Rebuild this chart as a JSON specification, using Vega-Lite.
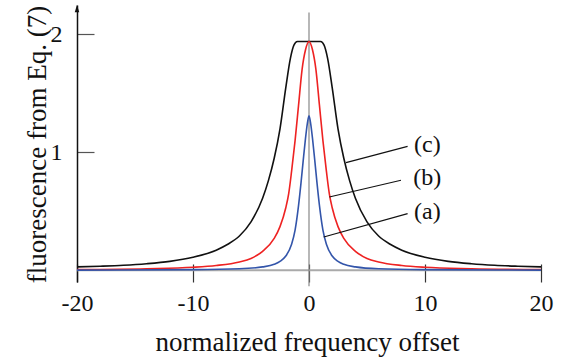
{
  "$schema": "https://vega.github.io/schema/vega-lite/v6.json",
  "autosize": {"type": "none"},
  "padding": {"left": 77, "top": 5, "right": 24, "bottom": 76},
  "width": 464,
  "height": 277,
  "background": "white",
  "config": {
    "view": {"stroke": null},
    "font": "Liberation Serif",
    "axis": {"labelFont": "Liberation Serif", "titleFont": "Liberation Serif", "labelColor": "#111", "titleColor": "#111", "titleFontWeight": "normal", "grid": false}
  },
  "datasets": {
    "curves": [
      {"series": "c", "x": -20, "y": 0.028}, {"series": "c", "x": -18, "y": 0.034}, {"series": "c", "x": -16, "y": 0.042}, {"series": "c", "x": -14, "y": 0.055}, {"series": "c", "x": -12, "y": 0.075}, {"series": "c", "x": -10, "y": 0.11}, {"series": "c", "x": -8, "y": 0.17}, {"series": "c", "x": -7, "y": 0.22}, {"series": "c", "x": -6, "y": 0.29}, {"series": "c", "x": -5, "y": 0.41}, {"series": "c", "x": -4, "y": 0.61}, {"series": "c", "x": -3.5, "y": 0.76}, {"series": "c", "x": -3, "y": 0.95}, {"series": "c", "x": -2.5, "y": 1.2}, {"series": "c", "x": -2, "y": 1.55}, {"series": "c", "x": -1.6, "y": 1.8}, {"series": "c", "x": -1.3, "y": 1.91}, {"series": "c", "x": -1, "y": 1.94}, {"series": "c", "x": 0, "y": 1.94}, {"series": "c", "x": 1, "y": 1.94}, {"series": "c", "x": 1.3, "y": 1.91}, {"series": "c", "x": 1.6, "y": 1.8}, {"series": "c", "x": 2, "y": 1.55}, {"series": "c", "x": 2.5, "y": 1.2}, {"series": "c", "x": 3, "y": 0.95}, {"series": "c", "x": 3.5, "y": 0.76}, {"series": "c", "x": 4, "y": 0.61}, {"series": "c", "x": 5, "y": 0.41}, {"series": "c", "x": 6, "y": 0.29}, {"series": "c", "x": 7, "y": 0.22}, {"series": "c", "x": 8, "y": 0.17}, {"series": "c", "x": 10, "y": 0.11}, {"series": "c", "x": 12, "y": 0.075}, {"series": "c", "x": 14, "y": 0.055}, {"series": "c", "x": 16, "y": 0.042}, {"series": "c", "x": 18, "y": 0.034}, {"series": "c", "x": 20, "y": 0.028},
      {"series": "b", "x": -20, "y": 0.006}, {"series": "b", "x": -14, "y": 0.013}, {"series": "b", "x": -10, "y": 0.025}, {"series": "b", "x": -8, "y": 0.04}, {"series": "b", "x": -6, "y": 0.07}, {"series": "b", "x": -5, "y": 0.1}, {"series": "b", "x": -4, "y": 0.16}, {"series": "b", "x": -3, "y": 0.27}, {"series": "b", "x": -2.5, "y": 0.37}, {"series": "b", "x": -2, "y": 0.53}, {"series": "b", "x": -1.75, "y": 0.65}, {"series": "b", "x": -1.5, "y": 0.84}, {"series": "b", "x": -1.2, "y": 1.1}, {"series": "b", "x": -0.9, "y": 1.4}, {"series": "b", "x": -0.6, "y": 1.7}, {"series": "b", "x": -0.3, "y": 1.87}, {"series": "b", "x": 0, "y": 1.94}, {"series": "b", "x": 0.3, "y": 1.87}, {"series": "b", "x": 0.6, "y": 1.7}, {"series": "b", "x": 0.9, "y": 1.4}, {"series": "b", "x": 1.2, "y": 1.1}, {"series": "b", "x": 1.5, "y": 0.84}, {"series": "b", "x": 1.75, "y": 0.65}, {"series": "b", "x": 2, "y": 0.53}, {"series": "b", "x": 2.5, "y": 0.37}, {"series": "b", "x": 3, "y": 0.27}, {"series": "b", "x": 4, "y": 0.16}, {"series": "b", "x": 5, "y": 0.1}, {"series": "b", "x": 6, "y": 0.07}, {"series": "b", "x": 8, "y": 0.04}, {"series": "b", "x": 10, "y": 0.025}, {"series": "b", "x": 14, "y": 0.013}, {"series": "b", "x": 20, "y": 0.006},
      {"series": "a", "x": -20, "y": 0.001}, {"series": "a", "x": -10, "y": 0.005}, {"series": "a", "x": -6, "y": 0.012}, {"series": "a", "x": -4, "y": 0.028}, {"series": "a", "x": -3, "y": 0.05}, {"series": "a", "x": -2.5, "y": 0.075}, {"series": "a", "x": -2, "y": 0.12}, {"series": "a", "x": -1.5, "y": 0.22}, {"series": "a", "x": -1.2, "y": 0.34}, {"series": "a", "x": -0.9, "y": 0.55}, {"series": "a", "x": -0.7, "y": 0.73}, {"series": "a", "x": -0.5, "y": 0.93}, {"series": "a", "x": -0.3, "y": 1.12}, {"series": "a", "x": -0.15, "y": 1.24}, {"series": "a", "x": 0, "y": 1.31}, {"series": "a", "x": 0.15, "y": 1.24}, {"series": "a", "x": 0.3, "y": 1.12}, {"series": "a", "x": 0.5, "y": 0.93}, {"series": "a", "x": 0.7, "y": 0.73}, {"series": "a", "x": 0.9, "y": 0.55}, {"series": "a", "x": 1.2, "y": 0.34}, {"series": "a", "x": 1.5, "y": 0.22}, {"series": "a", "x": 2, "y": 0.12}, {"series": "a", "x": 2.5, "y": 0.075}, {"series": "a", "x": 3, "y": 0.05}, {"series": "a", "x": 4, "y": 0.028}, {"series": "a", "x": 6, "y": 0.012}, {"series": "a", "x": 10, "y": 0.005}, {"series": "a", "x": 20, "y": 0.001}
    ],
    "notes": [
      {"label": "(c)", "x": 3.19, "y": 0.913, "lx": 8.5, "ly": 1.05, "tx": 10.2, "ty": 1.06},
      {"label": "(b)", "x": 1.75, "y": 0.621, "lx": 7.93, "ly": 0.763, "tx": 10.2, "ty": 0.78},
      {"label": "(a)", "x": 1.27, "y": 0.282, "lx": 8.5, "ly": 0.48, "tx": 10.2, "ty": 0.49}
    ],
    "one": [{}]
  },
  "layer": [
    {
      "data": {"name": "one"},
      "mark": {"type": "rule", "color": "#aaaaaa", "strokeWidth": 2},
      "encoding": {
        "x": {"datum": -20, "type": "quantitative", "scale": {"domain": [-20, 20], "nice": false, "zero": false},
          "axis": {"orient": "bottom", "values": [-20, -10, 0, 10, 20], "domain": false, "tickSize": -18, "tickColor": "#333", "tickWidth": 1.2, "labelPadding": 27, "labelFontSize": 24, "labelExpr": "'' + datum.value", "labelFlush": false, "title": "normalized frequency offset", "titleFontSize": 27, "titleX": 230, "titleY": 68, "titleBaseline": "alphabetic", "titleAnchor": null, "titleAlign": "center"}},
        "x2": {"datum": 20},
        "y": {"datum": 0, "type": "quantitative", "scale": {"domain": [-0.1, 2.25], "nice": false, "zero": false},
          "axis": {"orient": "left", "values": [1, 2], "domain": true, "domainColor": "#111", "domainWidth": 1.5, "tickSize": -17, "tickColor": "#555", "tickWidth": 1.2, "labelPadding": 32, "labelFontSize": 24, "labelBaseline": "middle", "labelExpr": "'' + datum.value", "title": "fluorescence from Eq. (7)", "titleFontSize": 27, "titleAngle": -90, "titleX": -32, "titleY": 139, "titleBaseline": "alphabetic", "titleAlign": "center", "titleAnchor": null}}
      }
    },
    {
      "data": {"name": "one"},
      "mark": {"type": "rule", "color": "#888888", "strokeWidth": 1.2},
      "encoding": {
        "x": {"datum": 0, "type": "quantitative"},
        "y": {"datum": -0.136, "type": "quantitative"},
        "y2": {"datum": 2.186}
      }
    },
    {
      "data": {"name": "one"},
      "mark": {"type": "point", "shape": "M0,-1L0.6,1L-0.6,1Z", "filled": true, "color": "#111", "size": 56, "opacity": 1},
      "encoding": {
        "x": {"datum": -20, "type": "quantitative"},
        "y": {"datum": 2.22, "type": "quantitative"}
      }
    },
    {
      "data": {"name": "curves"},
      "mark": {"type": "line", "interpolate": "monotone", "strokeWidth": 1.6},
      "encoding": {
        "x": {"field": "x", "type": "quantitative"},
        "y": {"field": "y", "type": "quantitative"},
        "color": {"field": "series", "type": "nominal", "scale": {"domain": ["a", "b", "c"], "range": ["#3355aa", "#ee2222", "#111111"]}, "legend": null},
        "order": {"field": "x", "type": "quantitative"}
      }
    },
    {
      "data": {"name": "notes"},
      "mark": {"type": "rule", "color": "#111", "strokeWidth": 1.2},
      "encoding": {
        "x": {"field": "x", "type": "quantitative"},
        "y": {"field": "y", "type": "quantitative"},
        "x2": {"field": "lx"},
        "y2": {"field": "ly"}
      }
    },
    {
      "data": {"name": "notes"},
      "mark": {"type": "text", "font": "Liberation Serif", "fontSize": 24, "color": "#111", "align": "center", "baseline": "middle"},
      "encoding": {
        "x": {"field": "tx", "type": "quantitative"},
        "y": {"field": "ty", "type": "quantitative"},
        "text": {"field": "label"}
      }
    }
  ]
}
